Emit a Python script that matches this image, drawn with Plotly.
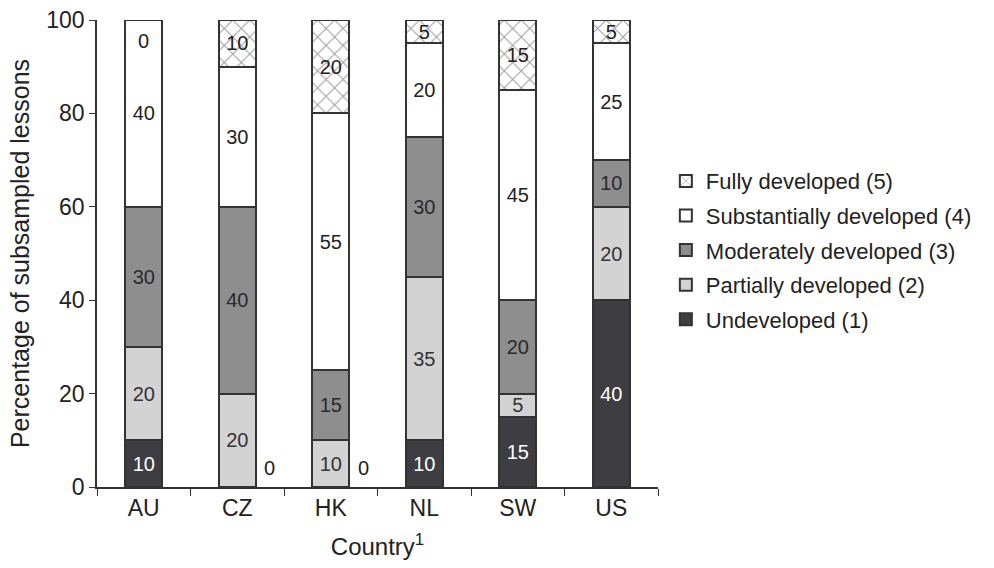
import plotly.graph_objects as go

countries = ["AU", "CZ", "HK", "NL", "SW", "US"]

undeveloped = [10, 0, 0, 10, 15, 40]
partially = [20, 20, 10, 35, 5, 20]
moderately = [30, 40, 15, 30, 20, 10]
substantially = [40, 30, 55, 20, 45, 25]
fully = [0, 10, 20, 5, 15, 5]

# name, values, fill, label colour, pattern, legend rank (top of legend = highest level)
series = [
    ("Undeveloped (1)", undeveloped, "#3d3d42", "white", "", 5),
    ("Partially developed (2)", partially, "#d3d3d3", "#333333", "", 4),
    ("Moderately developed (3)", moderately, "#8e8e8e", "#2a2a2a", "", 3),
    ("Substantially developed (4)", substantially, "#ffffff", "#222222", "", 2),
    ("Fully developed (5)", fully, "#ffffff", "#222222", "x", 1),
]

FONT = "Liberation Sans, Arial, sans-serif"
LABEL_SIZE = 20

fig = go.Figure()
for name, vals, color, tcolor, shape, rank in series:
    marker = dict(color=color, line=dict(color="#333333", width=2))
    if shape:
        marker["pattern"] = dict(shape=shape, fgcolor="#3a3a3a", bgcolor="white",
                                 size=12, solidity=0.16)
    fig.add_trace(go.Bar(
        x=countries, y=vals, name=name, legendgroup=name, legendrank=rank,
        marker=marker,
        text=[str(v) if v > 0 else "" for v in vals],
        textposition="inside", insidetextanchor="middle",
        textangle=0, constraintext="none",
        textfont=dict(family=FONT, size=LABEL_SIZE, color=tcolor),
        width=0.4,
    ))

# zero-valued segments get their labels placed beside / at the top of the bar
annotations = []
for i, c in enumerate(countries):
    if undeveloped[i] == 0:
        annotations.append(dict(x=i + 0.35, y=4, xref="x", yref="y", text="0",
                                showarrow=False,
                                font=dict(family=FONT, size=LABEL_SIZE, color="#222")))
    if fully[i] == 0:
        total = undeveloped[i] + partially[i] + moderately[i] + substantially[i]
        annotations.append(dict(x=i, y=total - 4.5, xref="x", yref="y", text="0",
                                showarrow=False,
                                font=dict(family=FONT, size=LABEL_SIZE, color="#222")))

fig.update_layout(
    barmode="stack",
    width=994, height=568,
    margin=dict(l=97, r=336, t=20, b=81),
    paper_bgcolor="white", plot_bgcolor="white",
    font=dict(family=FONT, size=22, color="#222222"),
    showlegend=True,
    legend=dict(x=1.014, y=0.700, xanchor="left", yanchor="top",
                traceorder="grouped", tracegroupgap=3,
                font=dict(family=FONT, size=22, color="#222222"),
                itemwidth=30),
    annotations=annotations,
    xaxis=dict(
        type="category", range=[-0.5, 5.5], automargin=False,
        showline=True, linecolor="#333333", linewidth=1.5,
        ticks="outside", tickson="boundaries", ticklen=7, tickcolor="#333333",
        tickfont=dict(family=FONT, size=23, color="#222222"),
        title=dict(text="Country<sup>1</sup>", font=dict(family=FONT, size=24, color="#222222"),
                   standoff=18),
        showgrid=False,
    ),
    yaxis=dict(
        range=[0, 100], tickvals=[0, 20, 40, 60, 80, 100], automargin=False,
        showline=True, linecolor="#333333", linewidth=1.5,
        ticks="outside", ticklen=6, tickcolor="#333333",
        tickfont=dict(family=FONT, size=23, color="#222222"),
        title=dict(text="Percentage of subsampled lessons",
                   font=dict(family=FONT, size=25, color="#222222"), standoff=10),
        showgrid=False, zeroline=False,
    ),
)

fig.write_html("out.html")
